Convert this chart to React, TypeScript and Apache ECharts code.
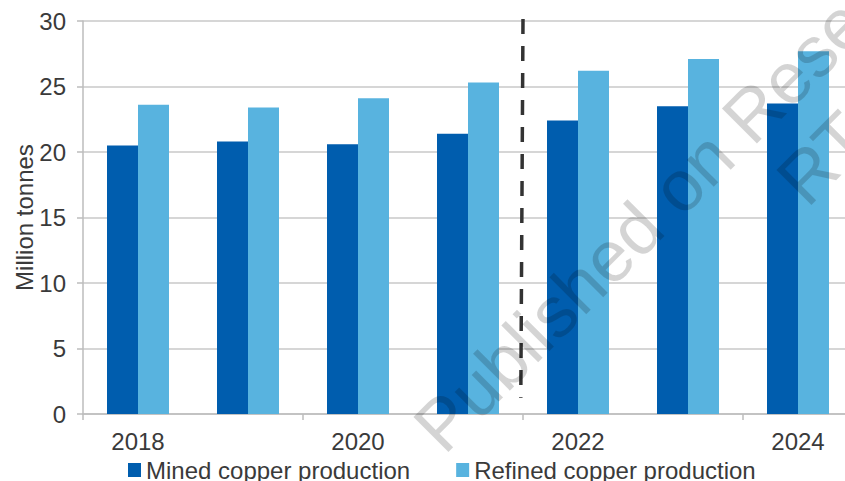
import React, { useEffect, useRef } from "react";
import * as echarts from "echarts";

const years = ["2018", "2019", "2020", "2021", "2022", "2023", "2024"];
const minedCopper = [20.5, 20.8, 20.6, 21.4, 22.4, 23.5, 23.7];
const refinedCopper = [23.6, 23.4, 24.1, 25.3, 26.2, 27.1, 27.7];
const yTicks = { min: 0, max: 30, interval: 5 };
// forecast divider: position on a 0..7 category-boundary scale, from top to bottom
const dividerX = [4.0, 3.98];
const dividerY = [30.15, 1.24];

const FONT = "'Liberation Sans', Arial, sans-serif";
const TEXT = "#3a3a3a";
const FS = 24;

export default function App() {
  const ref = useRef<HTMLDivElement>(null);
  useEffect(() => {
    if (!ref.current) return;
    const chart = echarts.init(ref.current, null, { renderer: "svg" });
    const r = Math.PI / 4;
    chart.setOption({
      animation: false,
      backgroundColor: "#ffffff",
      textStyle: { fontFamily: FONT },
      grid: {
        left: 83,
        top: 21,
        bottom: 67,
        width: 770,
        containLabel: false,
        outerBoundsMode: "none",
      },
      legend: {
        data: ["Mined copper production", "Refined copper production"],
        left: 128,
        top: 458,
        padding: 0,
        itemWidth: 13,
        itemHeight: 14,
        itemGap: 46,
        icon: "rect",
        textStyle: { fontSize: FS, color: TEXT, fontFamily: FONT },
      },
      xAxis: [
        {
          type: "category",
          data: years,
          axisLine: { show: true, lineStyle: { color: "#bdbdbd", width: 1.5 } },
          axisTick: { show: true, interval: 1, length: 6, lineStyle: { color: "#bdbdbd", width: 1.5 } },
          axisLabel: { interval: 1, fontSize: FS, color: TEXT, margin: 15, fontFamily: FONT },
          splitLine: { show: false },
        },
        { type: "value", min: 0, max: 7, show: false },
      ],
      yAxis: {
        type: "value",
        min: yTicks.min,
        max: yTicks.max,
        interval: yTicks.interval,
        name: "Million tonnes",
        nameLocation: "middle",
        nameRotate: 90,
        nameGap: 47,
        nameMoveOverlap: false,
        nameTextStyle: { fontSize: FS, color: TEXT, fontFamily: FONT },
        axisLine: { show: true, lineStyle: { color: "#bdbdbd", width: 1.5 } },
        axisTick: { show: true, length: 6, lineStyle: { color: "#bdbdbd", width: 1.5 } },
        axisLabel: { fontSize: FS, color: TEXT, margin: 17, fontFamily: FONT },
        splitLine: { show: true, lineStyle: { color: "#c8c8c8", width: 1.5 } },
      },
      series: [
        {
          name: "Mined copper production",
          type: "bar",
          data: minedCopper,
          barWidth: 31,
          barGap: "0%",
          itemStyle: { color: "#005dae" },
        },
        {
          name: "Refined copper production",
          type: "bar",
          data: refinedCopper,
          barWidth: 31,
          barGap: "0%",
          itemStyle: { color: "#58b3df" },
        },
        {
          name: "divider",
          type: "line",
          xAxisIndex: 1,
          data: dividerX.map((x, i) => [x, dividerY[i]]),
          symbol: "none",
          clip: false,
          silent: true,
          lineStyle: { color: "#333333", width: 3.5, type: [15, 12] },
          z: 5,
        },
      ],
      graphic: [
        {
          type: "text",
          x: 452,
          y: 464,
          rotation: r,
          silent: true,
          z: 100,
          style: {
            text: "Published on Research",
            fontSize: 72,
            fontFamily: FONT,
            fill: "rgba(0,0,0,0.17)",
            verticalAlign: "bottom",
            align: "left",
          },
        },
        {
          type: "text",
          x: 815,
          y: 217,
          rotation: r,
          silent: true,
          z: 100,
          style: {
            text: "RT",
            fontSize: 72,
            fontFamily: FONT,
            fill: "rgba(0,0,0,0.17)",
            verticalAlign: "bottom",
            align: "left",
          },
        },
      ],
    });
    return () => chart.dispose();
  }, []);
  return <div ref={ref} style={{ width: 845, height: 481, position: "absolute", left: 0, top: 0 }} />;
}
